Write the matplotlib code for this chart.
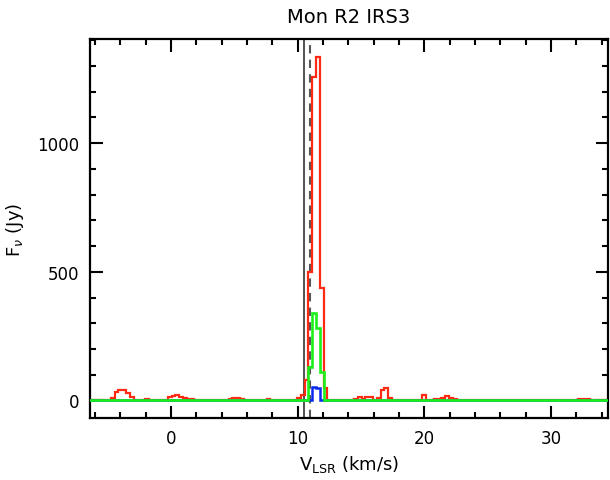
import numpy as np
import matplotlib
matplotlib.use("Agg")
import matplotlib.pyplot as plt
from matplotlib.ticker import MultipleLocator

# ---- data ----
title = "Mon R2 IRS3"
dv = 0.3              # channel width (km/s)
v_first_edge = -6.55  # left edge of first channel
n_chan = 138

# non-zero channels: centre velocity (km/s) and flux (Jy)
red_v = [-4.6, -4.3, -4.0, -3.7, -3.4, -3.1, -1.9,
         -0.1, 0.2, 0.5, 0.8, 1.1, 1.4, 1.7,
         4.7, 5.0, 5.3, 5.6, 7.7,
         10.1, 10.4, 10.7, 11.0, 11.3, 11.6, 11.9, 12.2,
         14.6, 14.9, 15.2, 15.5, 15.8, 16.1, 16.4, 16.7, 17.0, 17.3,
         20.0, 20.9, 21.2, 21.5, 21.8, 22.1, 22.4,
         32.3, 32.6, 32.9]
red_f = [8, 32, 42, 42, 30, 15, 7,
         15, 18, 22, 15, 8, 5, 5,
         5, 8, 10, 6, 4,
         8, 20, 80, 500, 1257, 1334, 436, 50,
         5, 12, 5, 12, 12, 2, 8, 42, 48, 8,
         22, 5, 5, 8, 16, 9, 4,
         4, 4, 4]

green_v = [11.0, 11.3, 11.6, 11.9]
green_f = [129, 340, 282, 110]

blue_v = [11.3, 11.6]
blue_f = [53, 50]

v_solid = 10.5
v_dashed = 11.0

edges = v_first_edge + dv * np.arange(n_chan + 1)
centres = 0.5 * (edges[:-1] + edges[1:])


def spectrum(vs, fs):
    arr = np.zeros(n_chan)
    for v, f in zip(vs, fs):
        arr[int(np.argmin(np.abs(centres - v)))] = f
    return arr


red = spectrum(red_v, red_f)
green = spectrum(green_v, green_f)
blue = spectrum(blue_v, blue_f)

plt.rcParams['font.family'] = ['DejaVu Sans']
fig = plt.figure(figsize=(6.10, 4.81), dpi=100)
ax = fig.add_axes([90 / 610, 62 / 481, 518 / 610, 379 / 481])

ax.axvline(v_solid, color='#333333', lw=1.2, zorder=1)
ax.axvline(v_dashed, color='#555555', lw=1.5, ls=(0, (4, 3)), zorder=1)

ax.stairs(red, edges, baseline=None, color='#ff2a14', lw=1.6, zorder=2)
ax.stairs(blue, edges, baseline=None, color='#0a28f0', lw=1.8, zorder=3)
ax.stairs(green, edges, baseline=None, color='#1af01a', lw=1.9, zorder=4)

ax.set_xlim(-6.4, 34.5)
ax.set_ylim(-68, 1404)

ax.xaxis.set_major_locator(MultipleLocator(10))
ax.xaxis.set_minor_locator(MultipleLocator(2))
ax.yaxis.set_major_locator(MultipleLocator(500))
ax.yaxis.set_minor_locator(MultipleLocator(100))
ax.tick_params(which='both', direction='in', top=True, right=True,
               width=1.5, labelsize=12, colors='black')
ax.tick_params(which='major', length=9, pad=8)
ax.tick_params(which='minor', length=4.5)
for s in ax.spines.values():
    s.set_linewidth(1.6)

ax.set_title(title, fontsize=14, pad=12)
ax.set_xlabel(r"V$_{\rm LSR}$ (km/s)", fontsize=13)
ax.set_ylabel(r"F$_{\nu}$ (Jy)", fontsize=13, labelpad=8)

fig.savefig("out.png", dpi=100)
